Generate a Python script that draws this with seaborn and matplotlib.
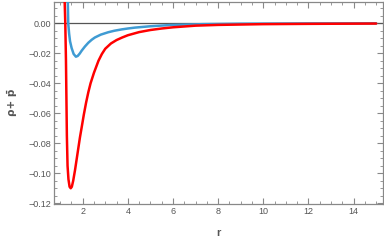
import matplotlib
matplotlib.use("Agg")
import matplotlib.pyplot as plt
import seaborn as sns
import pandas as pd
from matplotlib.ticker import MultipleLocator

# Data
r_red = [1.15, 1.20, 1.23, 1.26, 1.28, 1.30, 1.33, 1.37, 1.42, 1.47, 1.52, 1.58,
         1.66, 1.75, 1.82, 1.88, 1.96, 2.05, 2.15, 2.25, 2.35, 2.50, 2.60, 2.70,
         2.85, 3.00, 3.25, 3.50, 3.75, 4.00, 4.50, 5.00, 5.50, 6.00, 7.00, 8.00,
         10.0, 12.0, 15.0]
v_red = [0.060, 0.016, 0.000, -0.025, -0.050, -0.075, -0.095, -0.104, -0.109,
         -0.110, -0.109, -0.105, -0.098, -0.089, -0.082, -0.076, -0.069, -0.061,
         -0.053, -0.046, -0.040, -0.033, -0.029, -0.025, -0.0205, -0.0170,
         -0.0135, -0.0112, -0.0095, -0.0080, -0.0059, -0.0045, -0.0035, -0.0027,
         -0.0016, -0.0011, -0.0006, -0.0004, -0.0002]

r_blue = [1.30, 1.34, 1.36, 1.40, 1.44, 1.51, 1.60, 1.70, 1.78, 1.87, 1.96, 2.10,
          2.25, 2.40, 2.54, 2.80, 3.13, 3.40, 3.73, 4.00, 4.32, 5.00, 5.87, 7.33,
          9.0, 12.0, 15.0]
v_blue = [0.040, 0.0155, 0.000, -0.007, -0.012, -0.0165, -0.0205, -0.0223,
          -0.0218, -0.0202, -0.0182, -0.0155, -0.0130, -0.0110, -0.0095, -0.0076,
          -0.0060, -0.0050, -0.0041, -0.0035, -0.0029, -0.0020, -0.0012, -0.0006,
          -0.0003, -0.0001, -0.00005]

x_ticks = [2, 4, 6, 8, 10, 12, 14]
y_ticks = [0.00, -0.02, -0.04, -0.06, -0.08, -0.10, -0.12]
y_labels = ["0.00", "\u22120.02", "\u22120.04", "\u22120.06", "\u22120.08", "\u22120.10", "\u22120.12"]

sns.set_style("ticks")
plt.rcParams['font.family'] = ['Liberation Sans', 'DejaVu Sans']

fig = plt.figure(figsize=(3.84, 2.41), dpi=100)
ax = fig.add_axes([54/384, 1 - 204/241, (383-54)/384, (204-1.5)/241])

df_red = pd.DataFrame({"r": r_red, "v": v_red})
df_blue = pd.DataFrame({"r": r_blue, "v": v_blue})

ax.axhline(0, color="#555555", lw=0.9, zorder=1)
sns.lineplot(data=df_blue, x="r", y="v", color="#3f9bd3", lw=1.8, ax=ax, sort=False, zorder=3)
sns.lineplot(data=df_red, x="r", y="v", color="#ff0000", lw=1.8, ax=ax, sort=False, zorder=4)

ax.set_xlim(0.73, 15.3)
ax.set_ylim(-0.1205, 0.0145)
ax.set_xticks(x_ticks)
ax.set_yticks(y_ticks)
ax.set_yticklabels(y_labels)
ax.xaxis.set_minor_locator(MultipleLocator(0.5))
ax.yaxis.set_minor_locator(MultipleLocator(0.005))

gray = "#888888"
for s in ax.spines.values():
    s.set_color(gray)
    s.set_linewidth(0.9)
    s.set_visible(True)
ax.tick_params(which="both", direction="in", top=True, right=True, color=gray,
               labelcolor="#555555", labelsize=6.5, pad=2)
ax.tick_params(which="major", length=4, width=0.8)
ax.tick_params(which="minor", length=2, width=0.6)

ax.set_xlabel("r", fontsize=8, color="#555555", fontweight="bold", labelpad=9)
ax.set_ylabel("\u03c1+ p\u0304", fontsize=7.5, color="#555555", fontweight="bold",
              labelpad=8, family=["DejaVu Sans"])

fig.savefig("out.png", dpi=100)
